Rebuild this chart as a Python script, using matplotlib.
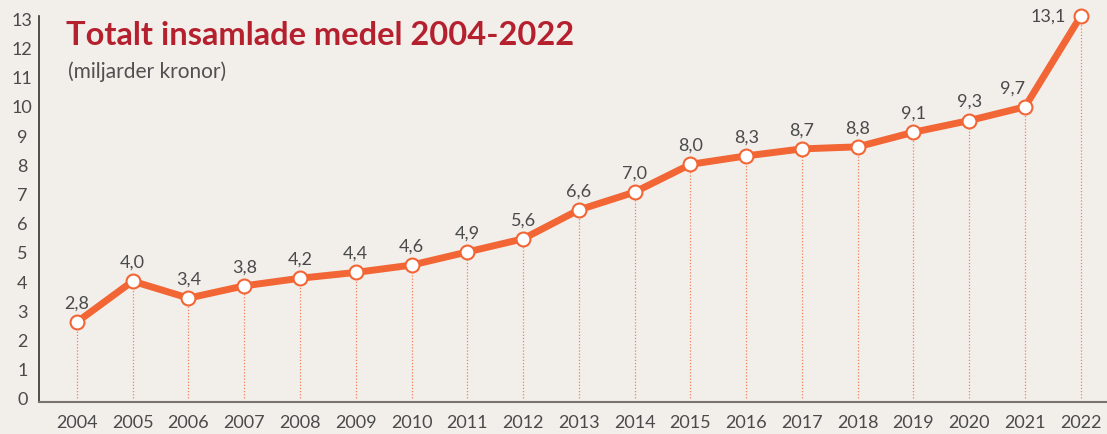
import matplotlib.pyplot as plt

plt.rcParams["font.family"] = ["Lato", "DejaVu Sans"]

years = list(range(2004, 2023))
# point heights as drawn in the chart
values = [2.6, 4.0, 3.42, 3.84, 4.1, 4.3, 4.55, 5.0, 5.45, 6.44, 7.05, 8.0, 8.29, 8.53, 8.6, 9.1, 9.5, 9.97, 13.08]
labels = ["2,8", "4,0", "3,4", "3,8", "4,2", "4,4", "4,6", "4,9", "5,6", "6,6", "7,0",
          "8,0", "8,3", "8,7", "8,8", "9,1", "9,3", "9,7", "13,1"]

BG = "#f2efeb"
ORANGE = "#f26535"
GRAY = "#4a4a4a"

fig = plt.figure(figsize=(11.07, 4.35), dpi=100, facecolor=BG)
ax = fig.add_axes([39 / 1107, 32 / 435, 1 - 39 / 1107, 386 / 435])
ax.set_facecolor(BG)

# dotted drop lines
ax.vlines(years, 0, values, colors=ORANGE, linestyles=(0, (1, 1.5)), linewidth=0.9, alpha=0.8, zorder=1)
ax.plot(years, values, color=ORANGE, linewidth=5, zorder=2, solid_capstyle="round")
ax.plot(years, values, linestyle="none", marker="o", markersize=10, markerfacecolor="white",
        markeredgecolor=ORANGE, markeredgewidth=1.5, zorder=3, clip_on=False)

for i, (x, v, lab) in enumerate(zip(years, values, labels)):
    if x == 2022:
        ax.annotate(lab, (x, v), xytext=(-11, 0), textcoords="offset points", ha="right", va="center",
                    fontsize=13, color=GRAY)
    elif x == 2021:
        ax.annotate(lab, (x, v), xytext=(-9, 14), textcoords="offset points", ha="center", va="center",
                    fontsize=13, color=GRAY)
    else:
        ax.annotate(lab, (x, v), xytext=(0, 14), textcoords="offset points", ha="center", va="center",
                    fontsize=13, color=GRAY)

ax.set_xlim(2003.32, 2022.47)
ax.set_ylim(-0.137, 13.08)
ax.set_xticks(years)
ax.set_yticks(range(0, 14))
ax.tick_params(axis="both", length=0, labelsize=13, labelcolor=GRAY)
ax.tick_params(axis="x", pad=9)
ax.tick_params(axis="y", pad=12)
for lab in ax.get_yticklabels():
    lab.set_horizontalalignment("center")

for s in ["top", "right"]:
    ax.spines[s].set_visible(False)
ax.spines["left"].set_color("#333333")
ax.spines["left"].set_linewidth(1.2)
ax.spines["bottom"].set_color("#7a7270")
ax.spines["bottom"].set_linewidth(1.5)

fig.text(66 / 1107, 1 - 36 / 435, "Totalt insamlade medel 2004-2022", fontsize=23.5, fontweight="bold",
         color="#b5202e", va="center")
fig.text(68 / 1107, 1 - 72 / 435, "(miljarder kronor)", fontsize=15, color="#505050", va="center")

fig.savefig("out.png", dpi=100, facecolor=BG)
